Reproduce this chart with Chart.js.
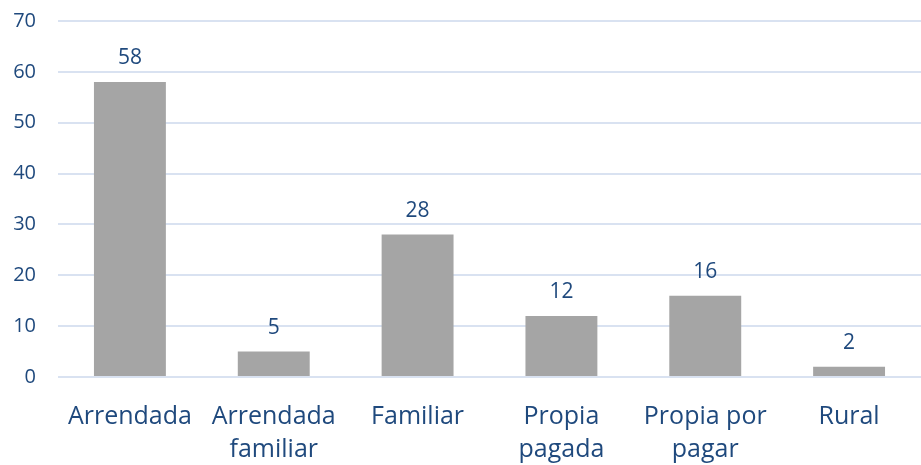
<!DOCTYPE html>
<html>
<head>
<meta charset="utf-8">
<script src="https://cdn.jsdelivr.net/npm/chart.js@4"></script>
<style>
  html, body { margin: 0; padding: 0; background: #fff; }
  #wrap { width: 921px; height: 465px; }
</style>
</head>
<body>
<div id="wrap"><canvas id="c" width="921" height="465"></canvas></div>
<script>
// values
const categories = [['Arrendada'], ['Arrendada', 'familiar'], ['Familiar'], ['Propia', 'pagada'], ['Propia por', 'pagar'], ['Rural']];
const counts = [58, 5, 28, 12, 16, 2];
const yTicks = [0, 10, 20, 30, 40, 50, 60, 70];

const textBlue = '#1f497d';

// value labels above each bar
const barLabels = {
  id: 'barLabels',
  afterDatasetsDraw(chart) {
    const ctx = chart.ctx;
    const meta = chart.getDatasetMeta(0);
    ctx.save();
    ctx.font = '21px "Open Sans", sans-serif';
    ctx.fillStyle = textBlue;
    ctx.textAlign = 'center';
    ctx.textBaseline = 'middle';
    meta.data.forEach((bar, i) => {
      ctx.fillText(String(counts[i]), bar.x, bar.y - 24);
    });
    ctx.restore();
  }
};

const ctx = document.getElementById('c').getContext('2d');
new Chart(ctx, {
  type: 'bar',
  data: {
    labels: categories,
    datasets: [{
      data: counts,
      backgroundColor: '#a5a5a5',
      barPercentage: 0.5,
      categoryPercentage: 1.0
    }]
  },
  options: {
    responsive: false,
    animation: false,
    layout: { padding: { top: 21, right: 0, left: 0, bottom: 0 } },
    plugins: { legend: { display: false }, tooltip: { enabled: false } },
    scales: {
      x: {
        grid: { display: false },
        border: { display: false },
        ticks: {
          color: textBlue,
          font: { family: '"Open Sans", sans-serif', size: 25, lineHeight: 1.3 },
          padding: 16,
          maxRotation: 0
        },
        afterFit(scale) { scale.height = 88; }
      },
      y: {
        min: 0,
        max: 70,
        afterBuildTicks(scale) { scale.ticks = yTicks.map(v => ({ value: v })); },
        grid: { color: '#d9e2f1', lineWidth: 2, drawTicks: false },
        border: { display: false },
        ticks: {
          color: textBlue,
          font: { family: '"Open Sans", sans-serif', size: 20 },
          padding: 22
        },
        afterFit(scale) {
          scale.width = 58;
          scale.paddingTop = 0;
          scale.paddingBottom = 0;
        }
      }
    }
  },
  plugins: [barLabels]
});
</script>
</body>
</html>
